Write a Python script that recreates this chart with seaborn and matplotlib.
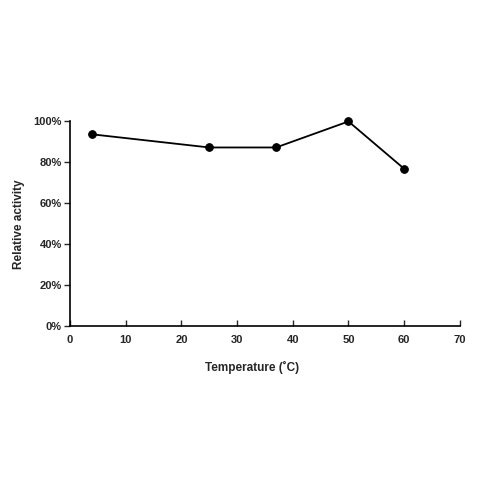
import matplotlib
matplotlib.use("Agg")
import matplotlib.pyplot as plt
import matplotlib.ticker as mticker
import seaborn as sns
import pandas as pd

temperature = [4, 25, 37, 50, 60]
activity = [93.7, 87.3, 87.3, 100.0, 76.9]
x_ticks = [0, 10, 20, 30, 40, 50, 60, 70]
y_ticks = [0, 20, 40, 60, 80, 100]

df = pd.DataFrame({"temp": temperature, "act": activity})

sns.set_style("white")
plt.rcParams["font.family"] = ["Liberation Sans", "DejaVu Sans"]
plt.rcParams["font.weight"] = "bold"

fig = plt.figure(figsize=(4.8, 4.8), dpi=100)
ax = fig.add_axes([0.146, 0.32, 0.812, 0.427])

sns.lineplot(data=df, x="temp", y="act", ax=ax, color="black", linewidth=1.3,
             marker="o", markersize=5.5, markeredgecolor="black", clip_on=False)

ax.set_xlim(0, 70)
ax.set_ylim(0, 100)
ax.set_xticks(x_ticks)
ax.set_yticks(y_ticks)
ax.yaxis.set_major_formatter(mticker.FuncFormatter(lambda v, p: f"{v:.0f}%"))
for s in ["top", "right"]:
    ax.spines[s].set_visible(False)
for s in ["left", "bottom"]:
    ax.spines[s].set_color("black")
    ax.spines[s].set_linewidth(1.2)
ax.tick_params(axis="x", direction="in", length=4, width=1, labelsize=8, pad=6, bottom=True)
ax.tick_params(axis="y", direction="out", length=4, width=1, labelsize=8, pad=2, left=True)
ax.set_xlabel("Temperature (\u02daC)", fontsize=8.5, fontweight="bold")
ax.xaxis.set_label_coords(0.467, -0.17)
ax.set_ylabel("Relative activity", fontsize=8.5, fontweight="bold", labelpad=6)

fig.savefig("out.png", dpi=100)
